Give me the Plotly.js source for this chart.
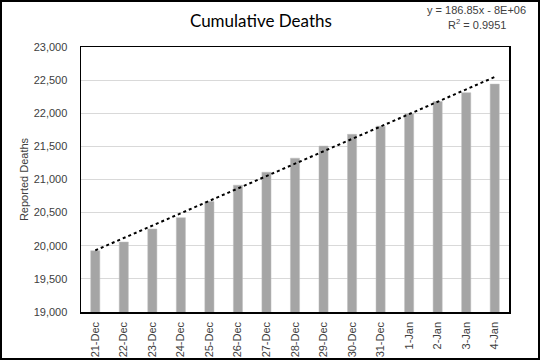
<!DOCTYPE html>
<html>
<head>
<meta charset="utf-8">
<script src="https://cdn.plot.ly/plotly-3.0.1.min.js"></script>
<style>
html,body{margin:0;padding:0;background:#fff;}
#frame{width:540px;height:360px;box-sizing:border-box;border:2px solid #000;}
#chart{width:536px;height:356px;}
</style>
</head>
<body>
<div id="frame"><div id="chart"></div></div>
<script>
var categories = ["21-Dec","22-Dec","23-Dec","24-Dec","25-Dec","26-Dec","27-Dec","28-Dec","29-Dec","30-Dec","31-Dec","1-Jan","2-Jan","3-Jan","4-Jan"];
var deaths = [19925, 20056, 20253, 20424, 20667, 20914, 21110, 21322, 21505, 21682, 21805, 21991, 22176, 22310, 22440];
var yTicks = [19000, 19500, 20000, 20500, 21000, 21500, 22000, 22500, 23000];
var trendEquation = "y = 186.85x - 8E+06";
var trendR2 = "R<sup>2</sup> = 0.9951";

// least-squares trendline from the data
var n = deaths.length, sx = 0, sy = 0, sxy = 0, sxx = 0;
for (var i = 0; i < n; i++) { sx += i; sy += deaths[i]; sxy += i * deaths[i]; sxx += i * i; }
var slope = (n * sxy - sx * sy) / (n * sxx - sx * sx);
var intercept = (sy - slope * sx) / n;
var trend = deaths.map(function (_, i) { return intercept + slope * i; });

var font = "Liberation Sans, Arial, sans-serif";

var data = [
  {
    type: "bar", x: categories, y: deaths,
    marker: {color: "#a5a5a5", line: {color: "#bfbfbf", width: 0.5}},
    hoverinfo: "x+y"
  },
  {
    type: "scatter", mode: "lines", x: categories, y: trend,
    line: {color: "#000000", width: 2, dash: "dot"},
    hoverinfo: "skip"
  }
];

var layout = {
  width: 536, height: 356,
  margin: {l: 79, r: 29, t: 45, b: 46},
  paper_bgcolor: "#ffffff", plot_bgcolor: "#ffffff",
  showlegend: false,
  bargap: 0.68,
  font: {family: font, size: 11, color: "#404040"},
  title: {
    text: "Cumulative Deaths",
    font: {family: "Lato, Liberation Sans, sans-serif", size: 17, color: "#000000", weight: 400},
    x: 0.483, xanchor: "center", xref: "container",
    y: 0.947, yanchor: "middle", yref: "container"
  },
  xaxis: {
    type: "category",
    tickangle: -90,
    tickfont: {family: font, size: 11, color: "#404040"},
    showgrid: false,
    showline: true, linecolor: "#000000", linewidth: 1.5, mirror: true,
    ticks: "outside", ticklen: 4, tickcolor: "rgba(0,0,0,0)",
    fixedrange: true
  },
  yaxis: {
    range: [19000, 23000],
    tickvals: yTicks,
    ticktext: yTicks.map(function (v) { return v.toLocaleString("en-US"); }),
    tickfont: {family: font, size: 11, color: "#404040"},
    showgrid: true, gridcolor: "#d9d9d9", gridwidth: 1,
    zeroline: false,
    showline: true, linecolor: "#000000", linewidth: 1.5, mirror: true,
    ticks: "outside", ticklen: 10, tickcolor: "rgba(0,0,0,0)",
    title: {text: "Reported Deaths", font: {family: font, size: 11, color: "#404040"}, standoff: 3},
    fixedrange: true
  },
  annotations: [
    {
      text: trendEquation, xref: "paper", yref: "paper",
      x: 0.925, y: 1.14, xanchor: "center", yanchor: "middle",
      showarrow: false, font: {family: font, size: 11, color: "#404040"}
    },
    {
      text: trendR2, xref: "paper", yref: "paper",
      x: 0.925, y: 1.085, xanchor: "center", yanchor: "middle",
      showarrow: false, font: {family: font, size: 11, color: "#404040"}
    }
  ]
};

Plotly.newPlot("chart", data, layout, {displayModeBar: false, staticPlot: true});
</script>
</body>
</html>
